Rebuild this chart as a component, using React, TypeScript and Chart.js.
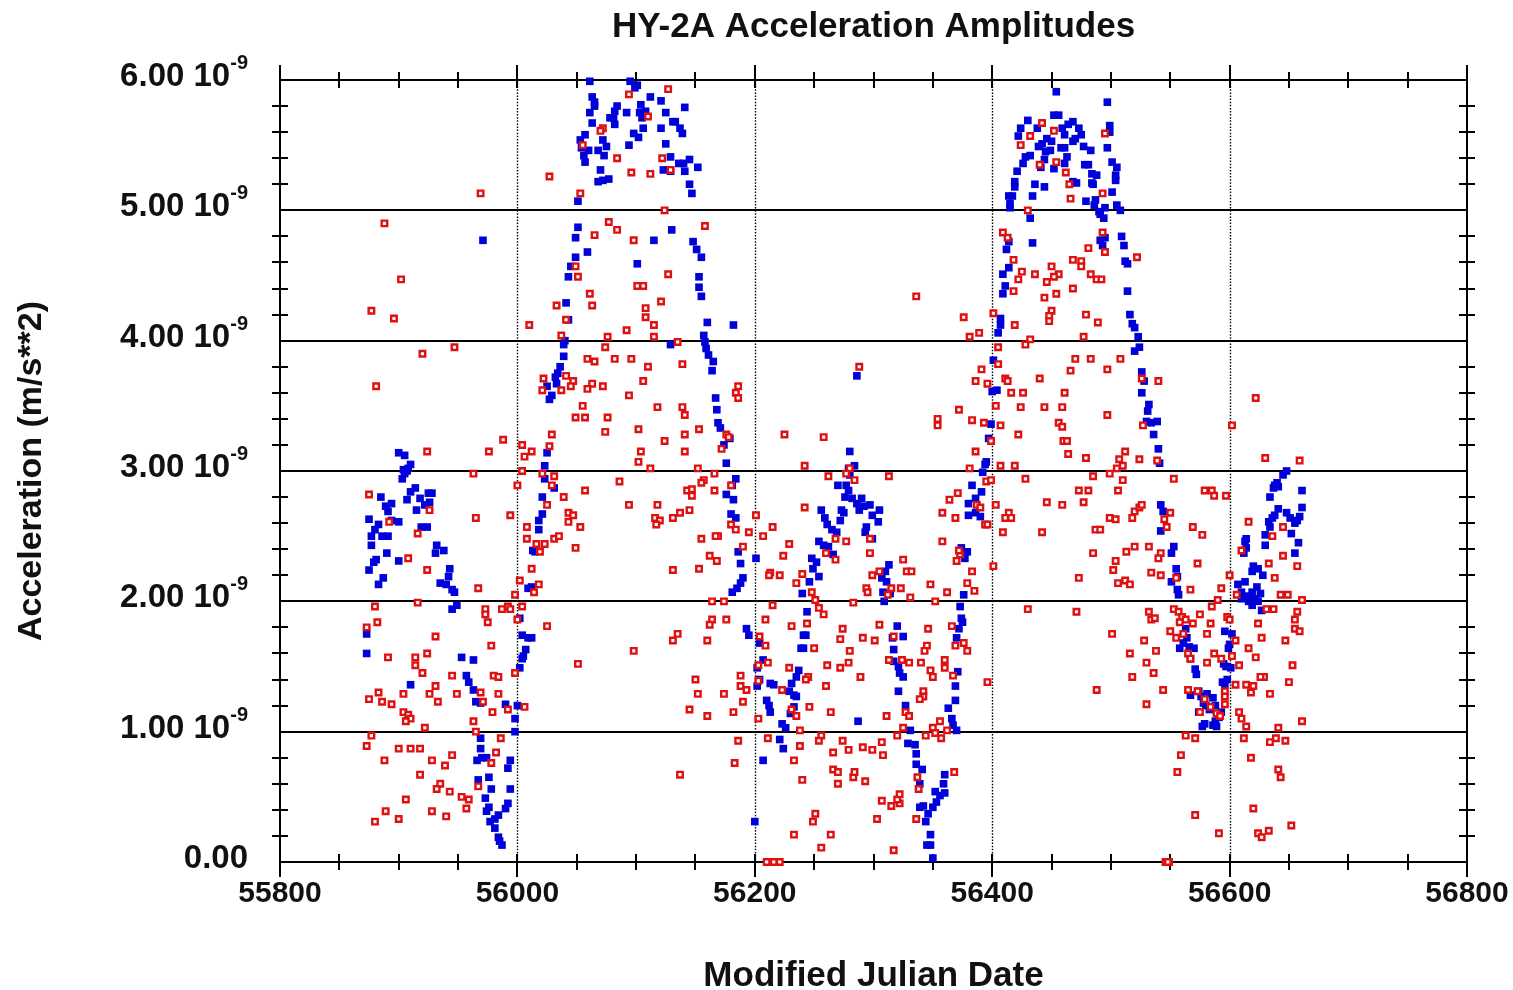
import React, { useEffect, useRef } from 'react';
import { Chart, registerables } from 'chart.js';

Chart.register(...registerables);

const chartTitle = 'HY-2A Acceleration Amplitudes';
const xAxisTitle = 'Modified Julian Date';
const yAxisTitle = 'Acceleration (m/s**2)';
const xMin = 55800;
const xMax = 56800;
const yMaxNano = 6;
const xTickLabels = [55800, 56000, 56200, 56400, 56600, 56800];
const yTickLabels = [0, 1, 2, 3, 4, 5, 6];
const yGridLines = [1, 2, 3, 4, 5];
const xGridLines = [56000, 56200, 56400, 56600];

// [MJD, acceleration in units of 1e-9 m/s^2]
const blueSeries: [number, number][] = [
  [56061,5.99],[56095,5.99],[56099,5.94],[56101,5.96],[56063,5.87],[56065,5.83],[56065,5.80],[56061,5.75],[56063,5.67],[56084,5.80],[56082,5.76],[56081,5.71],[56078,5.71],[56082,5.66],[56092,5.75],[56104,5.81],[56112,5.87],[56121,5.84],[56103,5.75],[56108,5.76],[56105,5.71],[56106,5.63],[56098,5.59],[56102,5.56],[56125,5.75],[56121,5.63],[56131,5.68],[56125,5.51],[56123,5.31],[56129,5.30],[56057,5.58],[56053,5.54],[56054,5.48],[56056,5.42],[56057,5.37],[56060,5.46],[56072,5.54],[56075,5.49],[56073,5.42],[56068,5.46],[56094,5.50],[56070,5.31],[56068,5.22],[56072,5.23],[56077,5.24],[56051,5.07],[56051,4.87],[56049,4.79],[56059,4.68],[56049,4.64],[56045,4.57],[56043,4.49],[56115,4.77],[56130,4.85],[56101,4.59],[56041,4.29],[56043,4.16],[56040,4.00],[56039,3.97],[56039,3.88],[56036,3.80],[56034,3.75],[56032,3.72],[56033,3.67],[56025,3.65],[56029,3.58],[56027,3.55],[55971,4.77],[55900,3.14],[55905,3.12],[55910,3.05],[55904,3.01],[55907,3.00],[56025,3.14],[56023,3.04],[56129,3.97],
  [55908,3.02],[55905,2.98],[55903,2.94],[55914,2.87],[55910,2.84],[55907,2.78],[55925,2.83],[55928,2.83],[55926,2.76],[55922,2.74],[55915,2.70],[55918,2.79],[55885,2.80],[55889,2.73],[55894,2.75],[55891,2.69],[55900,2.61],[55894,2.62],[55875,2.63],[55883,2.59],[55880,2.55],[55877,2.50],[55886,2.50],[55891,2.50],[55877,2.43],[55890,2.37],[55900,2.31],[55881,2.32],[55879,2.30],[55875,2.24],[55887,2.18],[55883,2.13],[55919,2.57],[55924,2.57],[55932,2.43],[55931,2.37],[55938,2.39],[55943,2.25],[55942,2.19],[55935,2.14],[55940,2.13],[55945,2.09],[55947,2.07],[55949,1.97],[55945,1.94],[55873,1.75],[55873,1.60],[55953,1.57],[55963,1.55],[55957,1.43],[55959,1.38],[55963,1.32],[55910,1.36],[55965,1.23],[55969,1.22],[55990,1.21],[56000,1.20],[55998,1.10],[55998,1.00],[55969,0.95],[55969,0.87],[55970,0.80],[55966,0.78],[55974,0.80],[55994,0.78],[55992,0.72],[55967,0.63],[55976,0.65],[55978,0.56],[55994,0.56],[55973,0.49],[55976,0.42],[55974,0.39],[55992,0.45],[55990,0.41],[55984,0.36],[55981,0.33],[55977,0.31],[55981,0.26],[55984,0.19],[55987,0.13],[55985,0.16],[56023,2.94],[56031,2.87],[56021,2.80],[56021,2.67],[56018,2.62],[56018,2.55],[56015,2.38],[56013,2.39],[56012,2.11],[56009,2.10],[56002,1.87],[56004,1.74],[56009,1.72],[56012,1.72],[56007,1.63],[56005,1.58],[56004,1.56],[56002,1.49],
  [56141,5.79],[56133,5.68],[56137,5.63],[56139,5.59],[56129,5.41],[56136,5.36],[56140,5.36],[56145,5.39],[56141,5.30],[56152,5.33],[56145,5.20],[56147,5.13],[56148,4.76],[56151,4.70],[56155,4.64],[56153,4.49],[56153,4.41],[56155,4.34],[56160,4.14],[56182,4.12],[56157,4.04],[56158,3.99],[56159,3.94],[56161,3.89],[56165,3.84],[56164,3.77],[56167,3.56],[56168,3.47],[56169,3.37],[56171,3.33],[56174,3.20],[56179,3.25],[56176,3.06],[56286,3.73],[56280,3.15],[56284,3.04],
  [56184,2.94],[56181,2.89],[56176,2.82],[56182,2.78],[56180,2.67],[56184,2.64],[56186,2.38],[56188,2.29],[56190,2.18],[56188,2.14],[56185,2.10],[56181,2.07],[56193,1.79],[56195,1.74],[56201,2.33],[56204,1.68],[56207,1.55],[56202,1.49],[56204,1.40],[56202,1.35],[56213,1.37],[56216,1.36],[56210,1.24],[56212,1.20],[56213,1.15],[56223,1.06],[56226,1.03],[56221,0.94],[56224,0.87],[56207,0.78],[56200,0.31],
  [56279,3.02],[56280,2.97],[56277,2.89],[56270,2.89],[56279,2.85],[56276,2.80],[56282,2.79],[56286,2.75],[56290,2.79],[56292,2.73],[56288,2.70],[56297,2.74],[56305,2.70],[56304,2.61],[56299,2.66],[56256,2.70],[56259,2.64],[56261,2.59],[56265,2.55],[56272,2.62],[56275,2.68],[56269,2.53],[56273,2.70],[56294,2.57],[56293,2.53],[56299,2.48],[56254,2.46],[56258,2.43],[56262,2.42],[56266,2.36],[56248,2.33],[56252,2.30],[56249,2.25],[56254,2.19],[56246,2.15],[56240,2.06],[56244,1.92],[56241,1.74],[56243,1.74],[56239,1.64],[56241,1.64],[56237,1.47],[56235,1.42],[56231,1.37],[56233,1.28],[56229,1.31],[56235,1.27],[56233,1.19],[56230,1.14],
  [56313,2.28],[56310,2.23],[56307,2.18],[56311,2.15],[56308,2.07],[56314,2.06],[56309,2.00],[56320,1.81],[56316,1.72],[56325,1.73],[56317,1.63],[56317,1.54],[56321,1.50],[56322,1.45],[56325,1.42],[56321,1.31],[56327,1.20],[56331,1.01],[56329,0.91],[56335,0.90],[56336,0.83],[56336,0.75],[56341,0.71],[56339,0.60],[56342,0.43],[56339,0.42],[56346,0.37],[56350,0.42],[56353,0.46],[56352,0.54],[56356,0.51],[56360,0.53],[56359,0.60],[56360,0.67],[56344,0.31],[56348,0.21],[56345,0.13],[56348,0.13],[56350,0.03],
  [56374,2.41],[56379,2.38],[56377,2.33],[56376,2.05],[56373,1.96],[56374,1.87],[56375,1.84],[56372,1.79],[56370,1.72],[56371,1.46],[56369,1.35],[56369,1.24],[56363,1.18],[56366,1.10],[56367,1.05],[56370,1.01],[56383,2.89],[56391,2.84],[56386,2.79],[56380,2.75],[56386,2.68],[56390,2.65],[56380,2.66],[56392,2.99],[56394,3.05],[56287,1.08],
  [56454,5.91],[56497,5.83],[56452,5.73],[56456,5.73],[56430,5.69],[56424,5.63],[56438,5.63],[56422,5.57],[56459,5.63],[56464,5.66],[56468,5.68],[56473,5.63],[56475,5.58],[56470,5.55],[56461,5.58],[56468,5.53],[56499,5.65],[56499,5.60],[56497,5.48],[56446,5.55],[56450,5.53],[56442,5.51],[56439,5.49],[56449,5.46],[56445,5.45],[56458,5.48],[56461,5.48],[56477,5.49],[56483,5.46],[56432,5.42],[56428,5.41],[56426,5.36],[56463,5.41],[56461,5.36],[56444,5.39],[56441,5.33],[56452,5.32],[56478,5.35],[56481,5.35],[56484,5.28],[56488,5.27],[56501,5.37],[56505,5.33],[56504,5.27],[56504,5.23],[56421,5.30],[56419,5.22],[56419,5.18],[56436,5.20],[56444,5.18],[56434,5.11],[56414,5.11],[56417,5.11],[56415,5.05],[56415,5.02],[56468,5.22],[56471,5.21],[56484,5.21],[56485,5.20],[56501,5.14],[56479,5.07],[56487,5.08],[56486,5.04],[56490,4.99],[56491,4.97],[56494,4.94],[56495,5.02],[56505,5.04],[56508,5.00],[56432,4.94],[56434,4.75],[56491,4.77],[56493,4.73],[56495,4.79],[56509,4.80],[56511,4.73],[56512,4.61],[56514,4.59],[56414,4.76],[56412,4.70],[56414,4.56],[56409,4.51],[56411,4.42],[56409,4.36],[56514,4.38],[56407,4.17],[56407,4.12],[56405,4.06],[56516,4.20],[56518,4.13],[56520,4.10],[56523,4.03],[56524,3.95],[56520,3.92],[56401,3.85],[56400,3.61],[56404,3.62],[56526,3.76],[56528,3.69],[56526,3.60],[56532,3.51],[56531,3.46],[56530,3.38],[56534,3.37],[56539,3.38],[56536,3.28],[56540,3.17],[56541,3.06],[56399,3.36],[56397,3.25],[56395,3.07],
  [56542,2.74],[56544,2.69],[56542,2.54],[56553,2.42],[56551,2.37],[56555,2.25],[56556,2.19],[56551,2.15],[56556,2.09],[56557,2.05],[56563,1.79],[56564,1.72],[56561,1.68],[56558,1.64],[56566,1.65],[56570,1.64],[56567,1.56],[56571,1.48],[56572,1.44],[56567,1.28],[56574,1.31],[56576,1.27],[56578,1.22],[56581,1.29],[56586,1.26],[56574,1.15],[56580,1.20],[56583,1.17],[56588,1.20],[56593,1.15],[56591,1.11],[56588,1.08],[56577,1.04],[56579,1.06],[56586,1.05],[56589,1.04],[56596,1.77],[56602,1.75],[56600,1.67],[56599,1.64],[56595,1.52],[56597,1.50],[56601,1.49],[56594,1.38],[56596,1.36],[56598,1.40],[56607,2.13],[56613,2.15],[56610,2.07],[56610,2.02],[56616,2.04],[56619,2.07],[56623,2.11],[56626,2.06],[56622,2.02],[56619,1.97],[56616,2.00],[56624,2.00],[56627,1.93],[56620,2.27],[56619,2.23],[56624,2.25],[56628,2.20],[56612,2.37],[56614,2.41],[56613,2.46],[56614,2.48],[56630,2.43],[56630,2.51],[56634,2.57],[56636,2.64],[56638,2.66],[56641,2.71],[56648,2.68],[56651,2.64],[56655,2.60],[56657,2.62],[56659,2.65],[56652,2.52],[56658,2.45],[56655,2.37],[56640,2.91],[56638,2.89],[56637,2.87],[56641,2.88],[56645,2.97],[56648,3.00],[56634,2.80],[56661,2.85],[56661,2.72],[56633,2.61]
];

const redSeries: [number, number][] = [
  [56127,5.93],[56094,5.89],[56110,5.72],[56072,5.63],[56070,5.61],[56055,5.50],[56084,5.40],[56122,5.40],[56129,5.31],[56096,5.29],[56112,5.28],[56027,5.26],[56053,5.13],[55969,5.13],[56124,5.00],[55888,4.90],[56077,4.91],[56084,4.85],[56065,4.81],[56098,4.77],[56049,4.57],[56051,4.49],[55902,4.47],[56127,4.51],[56061,4.36],[56101,4.42],[56106,4.42],[56033,4.27],[56063,4.27],[56121,4.30],[55877,4.23],[55896,4.17],[56108,4.25],[56108,4.18],[56041,4.16],[56010,4.12],[56115,4.12],[56092,4.08],[56076,4.03],[56115,4.03],[56037,4.04],[56074,3.95],[55920,3.90],[55947,3.95],[55881,3.65],[56059,3.86],[56065,3.84],[56082,3.86],[56096,3.86],[56110,3.80],[56041,3.73],[56022,3.71],[56047,3.69],[56063,3.67],[56072,3.65],[56059,3.63],[56021,3.62],[56037,3.62],[56045,3.65],[56106,3.69],[56094,3.58],[56055,3.50],[56118,3.49],[56049,3.41],[56057,3.41],[56076,3.41],[56102,3.32],[56074,3.30],[56029,3.28],[55988,3.24],[56124,3.23],[55924,3.15],[55976,3.15],[56004,3.20],[56012,3.15],[56027,3.19],[56006,3.11],[56104,3.15],[56102,3.07],[56112,3.02],[55963,2.98],[56004,3.00],
  [55875,2.82],[55892,2.61],[55926,2.70],[55916,2.52],[55908,2.33],[55924,2.24],[55965,2.64],[55994,2.66],[55967,2.10],[55916,1.99],[55880,1.96],[55882,1.84],[55873,1.80],[55931,1.73],[55924,1.60],[55891,1.57],[55914,1.57],[55914,1.51],[55920,1.45],[55945,1.43],[55931,1.35],[55926,1.29],[55904,1.29],[55883,1.30],[55875,1.25],[55886,1.23],[55894,1.21],[55933,1.23],[55949,1.29],[55904,1.15],[55908,1.13],[55910,1.10],[55906,1.08],[55922,1.03],[55877,0.97],[55873,0.89],[55900,0.87],[55910,0.87],[55918,0.87],[55888,0.78],[55928,0.78],[55939,0.74],[55945,0.82],[55918,0.67],[55935,0.60],[55932,0.56],[55943,0.54],[55906,0.48],[55953,0.50],[55959,0.48],[55957,0.41],[55928,0.39],[55889,0.39],[55900,0.33],[55880,0.31],[55940,0.35],[55973,1.94],[55973,1.90],[55975,1.84],[55987,1.94],[55992,1.96],[55994,1.94],[55998,2.05],[55978,1.66],[55980,1.43],[55984,1.42],[55969,1.30],[55971,1.23],[55984,1.29],[55979,1.15],[55992,1.17],[55963,1.08],[55965,1.00],[55986,0.95],[55982,0.84],[55978,0.76],[55967,0.58],[55998,1.45],[56006,1.19],[56000,2.89],[56021,2.98],[56031,2.96],[56029,2.89],[56039,2.80],[56057,2.85],[56086,2.92],[56094,2.74],[56118,2.74],[56131,2.64],[56116,2.64],[56120,2.62],[56117,2.59],[56025,2.74],[56043,2.68],[56047,2.66],[56043,2.61],[56053,2.57],[56008,2.57],[56008,2.48],[56016,2.44],[56023,2.44],[56019,2.38],[56031,2.48],[56035,2.50],[56049,2.41],[56012,2.25],[56002,2.16],[56018,2.13],[56014,2.07],[56004,1.96],[56000,1.86],[56025,1.81],[56051,1.52],[56098,1.62],[56131,1.70],[56131,2.24],
  [56158,4.88],[56135,3.99],[56139,3.82],[56186,3.65],[56184,3.60],[56186,3.56],[56139,3.49],[56141,3.43],[56153,3.32],[56141,3.28],[56141,3.15],[56176,3.28],[56178,3.26],[56172,3.17],[56152,3.02],[56225,3.28],[56258,3.26],[56242,3.04],[56336,4.34],[56376,4.18],[56389,4.06],[56381,4.03],[56288,3.80],[56391,3.78],[56386,3.69],[56396,3.67],[56372,3.47],[56354,3.40],[56354,3.35],[56383,3.39],[56393,3.37],[56386,3.15],[56381,3.02],[56280,3.02],
  [56166,2.98],[56157,2.93],[56155,2.91],[56180,2.89],[56166,2.85],[56143,2.85],[56147,2.86],[56147,2.81],[56145,2.70],[56137,2.68],[56180,2.59],[56184,2.55],[56195,2.53],[56201,2.66],[56215,2.57],[56207,2.50],[56169,2.50],[56167,2.50],[56155,2.48],[56190,2.42],[56162,2.35],[56168,2.31],[56153,2.25],[56213,2.22],[56212,2.20],[56221,2.20],[56229,2.44],[56224,2.35],[56242,2.72],[56240,2.21],[56235,2.14],[56262,2.96],[56277,2.98],[56284,2.93],[56313,2.96],[56268,2.48],[56277,2.46],[56260,2.37],[56268,2.32],[56297,2.48],[56297,2.37],[56325,2.32],[56328,2.23],[56332,2.23],[56299,2.20],[56305,2.23],[56294,2.10],[56295,2.07],[56315,2.10],[56323,2.10],[56312,2.05],[56331,2.03],[56348,2.13],[56362,2.07],[56352,2.00],[56358,2.68],[56364,2.78],[56371,2.83],[56369,2.64],[56358,2.46],[56370,2.31],[56373,2.36],[56372,2.39],[56383,2.23],[56379,2.14],[56385,2.08],[56387,2.74],[56390,2.72],[56394,2.59],[56395,2.92],
  [56164,2.00],[56174,2.00],[56215,1.97],[56248,2.07],[56251,2.01],[56254,1.95],[56258,1.90],[56283,1.99],[56209,1.86],[56164,1.86],[56162,1.82],[56176,1.86],[56135,1.75],[56160,1.70],[56204,1.73],[56209,1.66],[56231,1.81],[56244,1.83],[56250,1.64],[56274,1.79],[56272,1.71],[56280,1.62],[56291,1.72],[56301,1.70],[56305,1.82],[56317,1.73],[56346,1.79],[56366,1.81],[56376,1.68],[56379,1.62],[56369,1.66],[56345,1.66],[56343,1.62],[56203,1.51],[56211,1.53],[56229,1.49],[56261,1.51],[56272,1.49],[56279,1.53],[56289,1.42],[56313,1.55],[56324,1.55],[56330,1.53],[56340,1.53],[56348,1.47],[56350,1.42],[56360,1.55],[56360,1.49],[56367,1.43],[56396,1.38],[56150,1.40],[56188,1.43],[56188,1.35],[56193,1.32],[56152,1.29],[56174,1.29],[56190,1.23],[56145,1.17],[56160,1.12],[56182,1.15],[56203,1.39],[56223,1.32],[56245,1.42],[56243,1.40],[56260,1.35],[56231,1.17],[56235,1.12],[56246,1.19],[56264,1.15],[56311,1.12],[56327,1.15],[56330,1.12],[56342,1.31],[56342,1.27],[56339,1.25],[56356,1.08],[56350,1.03],[56352,0.99],[56357,0.95],[56362,1.01],[56344,0.97],[56325,1.03],[56320,0.97],[56203,1.10],[56186,0.93],[56211,0.95],[56238,1.01],[56238,0.89],[56256,0.97],[56254,0.93],[56274,0.93],[56279,0.86],[56266,0.84],[56291,0.88],[56299,0.86],[56307,0.92],[56308,0.82],[56233,0.78],[56183,0.76],[56137,0.67],[56240,0.63],[56266,0.71],[56270,0.69],[56283,0.65],[56284,0.69],[56293,0.62],[56270,0.60],[56337,0.65],[56338,0.56],[56368,0.69],[56307,0.47],[56315,0.43],[56322,0.45],[56320,0.48],[56322,0.52],[56303,0.33],[56336,0.33],[56251,0.37],[56249,0.31],[56233,0.21],[56264,0.21],[56256,0.11],[56317,0.09],[56210,0.00],[56216,0.00],[56221,0.00],
  [56442,5.67],[56452,5.61],[56432,5.57],[56424,5.50],[56495,5.59],[56440,5.35],[56454,5.37],[56462,5.29],[56465,5.20],[56493,5.13],[56466,5.09],[56430,5.00],[56409,4.83],[56413,4.79],[56493,4.83],[56481,4.71],[56495,4.68],[56522,4.64],[56418,4.62],[56468,4.62],[56475,4.61],[56475,4.57],[56450,4.57],[56425,4.53],[56422,4.47],[56436,4.51],[56456,4.51],[56452,4.49],[56446,4.45],[56483,4.51],[56488,4.47],[56492,4.47],[56468,4.40],[56418,4.38],[56454,4.36],[56444,4.33],[56450,4.23],[56448,4.19],[56448,4.15],[56401,4.21],[56419,4.12],[56479,4.20],[56489,4.14],[56432,4.01],[56428,3.97],[56477,4.03],[56405,3.95],[56405,3.82],[56470,3.86],[56483,3.86],[56508,3.86],[56466,3.77],[56497,3.78],[56411,3.71],[56413,3.69],[56440,3.71],[56526,3.71],[56540,3.69],[56416,3.60],[56426,3.60],[56461,3.60],[56403,3.50],[56424,3.49],[56444,3.49],[56459,3.49],[56497,3.43],[56456,3.37],[56459,3.34],[56407,3.35],[56527,3.35],[56422,3.28],[56399,3.23],[56460,3.23],[56463,3.23],[56464,3.13],[56512,3.15],[56507,3.09],[56479,3.10],[56524,3.09],[56539,3.08],[56407,3.04],[56419,3.04],[56510,3.04],[56505,3.02],[56602,3.35],[56622,3.56],[56630,3.10],[56659,3.08],
  [56399,2.93],[56428,2.94],[56485,2.96],[56499,2.98],[56510,2.93],[56553,2.94],[56473,2.85],[56481,2.85],[56506,2.85],[56579,2.85],[56585,2.85],[56587,2.81],[56597,2.81],[56446,2.76],[56459,2.74],[56477,2.76],[56403,2.74],[56414,2.68],[56411,2.64],[56416,2.64],[56499,2.64],[56504,2.63],[56518,2.64],[56520,2.69],[56524,2.72],[56526,2.74],[56550,2.68],[56545,2.63],[56547,2.57],[56569,2.57],[56577,2.51],[56409,2.53],[56442,2.53],[56487,2.55],[56491,2.55],[56396,2.59],[56616,2.61],[56636,2.50],[56645,2.57],[56513,2.38],[56520,2.42],[56532,2.42],[56542,2.37],[56540,2.33],[56485,2.37],[56504,2.31],[56502,2.24],[56534,2.22],[56542,2.20],[56555,2.18],[56473,2.18],[56506,2.14],[56512,2.16],[56516,2.13],[56573,2.29],[56567,2.09],[56593,2.10],[56600,2.20],[56610,2.39],[56633,2.29],[56645,2.35],[56638,2.18],[56657,2.27],[56401,2.27],[56643,2.05],[56649,2.05],[56606,2.05],[56590,2.01],[56585,1.96],[56661,2.01],[56430,1.94],[56471,1.92],[56532,1.92],[56534,1.86],[56537,1.87],[56553,1.94],[56557,1.92],[56560,1.88],[56563,1.86],[56558,1.84],[56569,1.83],[56575,1.90],[56584,1.83],[56598,1.88],[56600,1.86],[56550,1.77],[56555,1.72],[56561,1.75],[56581,1.75],[56605,1.70],[56501,1.75],[56528,1.70],[56516,1.60],[56538,1.62],[56530,1.53],[56536,1.45],[56518,1.42],[56488,1.32],[56544,1.32],[56530,1.21],[56565,1.60],[56567,1.56],[56587,1.60],[56593,1.56],[56602,1.58],[56581,1.53],[56608,1.51],[56616,1.64],[56622,1.57],[56627,1.72],[56647,1.70],[56629,1.42],[56626,1.42],[56605,1.36],[56614,1.36],[56620,1.35],[56618,1.30],[56634,1.29],[56650,1.38],[56653,1.51],[56655,1.86],[56657,1.92],[56655,1.79],[56659,1.77],[56565,1.32],[56573,1.31],[56579,1.25],[56584,1.19],[56575,1.15],[56589,1.14],[56592,1.12],[56596,1.31],[56596,1.27],[56596,1.21],[56608,1.15],[56610,1.10],[56614,1.04],[56641,1.03],[56639,0.95],[56634,0.92],[56647,0.93],[56661,1.08],[56563,0.97],[56571,0.95],[56612,0.95],[56559,0.82],[56618,0.80],[56556,0.69],[56641,0.71],[56643,0.65],[56571,0.36],[56620,0.41],[56652,0.28],[56633,0.24],[56624,0.22],[56627,0.19],[56591,0.22],[56546,0.00],[56549,0.00],[56548,0.00],[56637,1.94],[56631,1.94],[56624,1.83]
];

const FONT = '"Liberation Sans", Arial, Helvetica, sans-serif';

const axesPlugin = {
  id: 'hyAxes',
  beforeDatasetsDraw(chart: any) {
    const { ctx, chartArea: a, scales } = chart;
    const xs = scales.x;
    const ys = scales.y;
    const line = (x1: number, y1: number, x2: number, y2: number) => {
      ctx.beginPath();
      ctx.moveTo(x1, y1);
      ctx.lineTo(x2, y2);
      ctx.stroke();
    };
    ctx.save();
    ctx.strokeStyle = '#000';
    ctx.lineWidth = 2;
    for (const v of yGridLines) {
      const py = Math.round(ys.getPixelForValue(v * 1e-9));
      line(a.left, py, a.right, py);
    }
    ctx.lineWidth = 1.4;
    ctx.setLineDash([1.5, 1.6]);
    for (const v of xGridLines) {
      const px = Math.round(xs.getPixelForValue(v)) + 0.5;
      line(px, a.top, px, a.bottom);
    }
    ctx.setLineDash([]);
    ctx.lineWidth = 2;
    ctx.strokeRect(a.left, a.top, a.right - a.left, a.bottom - a.top);
    for (let v = xMin; v <= xMax; v += 50) {
      const px = Math.round(xs.getPixelForValue(v));
      const major = (v - xMin) % 200 === 0;
      line(px, a.bottom - 8, px, a.bottom + (major ? 15 : 8));
      line(px, a.top - (major ? 15 : 8), px, a.top + 8);
    }
    for (let i = 1; i < yMaxNano * 5; i++) {
      if (i % 5 === 0) continue;
      const py = Math.round(ys.getPixelForValue(i * 0.2e-9));
      line(a.left - 8, py, a.left + 8, py);
      line(a.right - 8, py, a.right + 8, py);
    }
    ctx.restore();
  },
  afterDraw(chart: any) {
    const { ctx, chartArea: a, scales } = chart;
    const xs = scales.x;
    const ys = scales.y;
    ctx.save();
    ctx.fillStyle = '#111';
    // title
    ctx.font = `bold 35px ${FONT}`;
    ctx.textAlign = 'center';
    ctx.textBaseline = 'alphabetic';
    ctx.fillText(chartTitle, (a.left + a.right) / 2, 37);
    // x tick labels
    ctx.font = `bold 30px ${FONT}`;
    for (const v of xTickLabels) {
      ctx.fillText(String(v), xs.getPixelForValue(v), 902);
    }
    // x axis title
    ctx.font = `bold 35px ${FONT}`;
    ctx.fillText(xAxisTitle, (a.left + a.right) / 2, 986);
    // y tick labels
    const rightEdge = a.left - 32;
    for (const v of yTickLabels) {
      const py = ys.getPixelForValue(v * 1e-9);
      ctx.textAlign = 'right';
      if (v === 0) {
        ctx.font = `bold 33px ${FONT}`;
        ctx.fillText('0.00', rightEdge, py + 6);
      } else {
        ctx.font = `bold 20px ${FONT}`;
        const sup = '-9';
        const sw = ctx.measureText(sup).width;
        ctx.fillText(sup, rightEdge, py - 11);
        ctx.font = `bold 33px ${FONT}`;
        ctx.fillText(v.toFixed(2) + ' 10', rightEdge - sw, py + 6);
      }
    }
    // y axis title
    ctx.save();
    ctx.translate(41, (a.top + a.bottom) / 2);
    ctx.rotate(-Math.PI / 2);
    ctx.textAlign = 'center';
    ctx.font = `bold 34px ${FONT}`;
    ctx.fillText(yAxisTitle, 0, 0);
    ctx.restore();
    ctx.restore();
  }
};

export default function App() {
  const canvasRef = useRef<HTMLCanvasElement | null>(null);
  useEffect(() => {
    const canvas = canvasRef.current;
    if (!canvas) return;
    const chart = new Chart(canvas, {
      type: 'scatter',
      data: {
        datasets: [
          {
            label: 'red',
            data: redSeries.map(([x, y]) => ({ x, y: y * 1e-9 })),
            pointStyle: 'rect',
            pointRadius: 3.9,
            pointBorderWidth: 2.4,
            pointBorderColor: '#e01010',
            pointBackgroundColor: '#ffffff',
            borderColor: '#e01010',
            backgroundColor: '#ffffff',
            clip: false,
          } as any,
          {
            label: 'blue',
            data: blueSeries.map(([x, y]) => ({ x, y: y * 1e-9 })),
            pointStyle: 'rect',
            pointRadius: 5.4,
            pointBorderWidth: 0,
            pointBackgroundColor: '#0000d8',
            backgroundColor: '#0000d8',
            borderColor: '#0000d8',
            clip: false,
          } as any,
        ],
      },
      options: {
        animation: false,
        responsive: false,
        devicePixelRatio: 1,
        layout: { padding: { left: 280, right: 46, top: 80, bottom: 128 } },
        plugins: { legend: { display: false }, tooltip: { enabled: false }, title: { display: false } },
        events: [],
        scales: {
          x: { type: 'linear', min: xMin, max: xMax, display: false },
          y: { type: 'linear', min: 0, max: yMaxNano * 1e-9, display: false },
        },
      },
      plugins: [axesPlugin],
    });
    return () => chart.destroy();
  }, []);
  return (
    <div style={{ position: 'absolute', left: 0, top: 0, width: 1513, height: 990, background: '#fff' }}>
      <canvas ref={canvasRef} width={1513} height={990} style={{ display: 'block' }} />
    </div>
  );
}
